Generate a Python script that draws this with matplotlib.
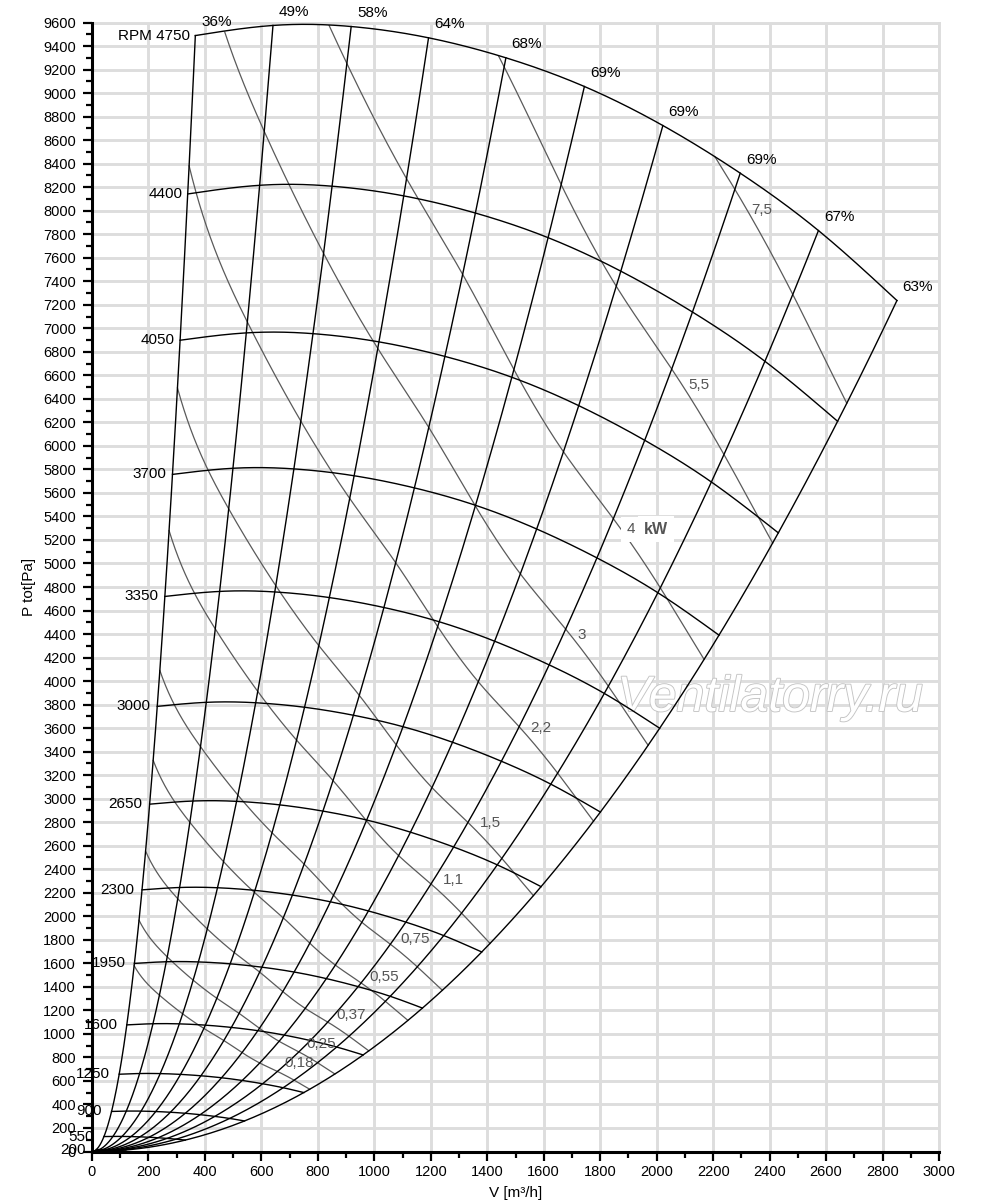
import numpy as np
import matplotlib
matplotlib.use('Agg')
import matplotlib.pyplot as plt
import matplotlib.patheffects as pe

plt.rcParams['font.family'] = ['Liberation Sans', 'DejaVu Sans']

# ---- data ----
RPM_TOP = 4750
# fan curve at 4750 rpm (V m3/h, Ptot Pa)
TOP_V = [366, 641, 798, 918, 1192, 1466, 1744, 2022, 2296, 2573, 2851]
TOP_P = [9489, 9575, 9583, 9566, 9470, 9300, 9056, 8724, 8319, 7831, 7236]
# efficiency points on the 4750 rpm curve
EFF_V = [366, 641, 918, 1192, 1466, 1744, 2022, 2296, 2573, 2851]
EFF_ETA = [36.4, 49, 58, 64, 68, 69, 69, 69, 67, 63]
EFF_LABELS = ['36%', '49%', '58%', '64%', '68%', '69%', '69%', '69%', '67%', '63%']
# speed curves
RPMS = [4750, 4400, 4050, 3700, 3350, 3000, 2650, 2300, 1950, 1600, 1250, 900, 550, 200]
# shaft power lines (kW)
POWER_KW = [7.5, 5.5, 4, 3, 2.2, 1.5, 1.1, 0.75, 0.55, 0.37, 0.25, 0.18]
POWER_LABELS = ['7,5', '5,5', '4', '3', '2,2', '1,5', '1,1', '0,75', '0,55', '0,37', '0,25', '0,18']
POWER_LABEL_V = [2373, 2148, 1909, 1735, 1591, 1413, 1281, 1144, 1035, 918, 810, 734]
POWER_LABEL_P = [8006, 6518, 5293, 4392, 3598, 2796, 2308, 1804, 1481, 1161, 912, 755]

X_TICKS = list(range(0, 3001, 200))
Y_TICKS = list(range(0, 9601, 200))


def natural_spline(x, y, xn):
    x = np.asarray(x, float)
    y = np.asarray(y, float)
    n = len(x)
    h = np.diff(x)
    A = np.zeros((n, n))
    b = np.zeros(n)
    A[0, 0] = 1
    A[-1, -1] = 1
    for i in range(1, n - 1):
        A[i, i - 1] = h[i - 1]
        A[i, i] = 2 * (h[i - 1] + h[i])
        A[i, i + 1] = h[i]
        b[i] = 6 * ((y[i + 1] - y[i]) / h[i] - (y[i] - y[i - 1]) / h[i - 1])
    M = np.linalg.solve(A, b)
    idx = np.clip(np.searchsorted(x, xn) - 1, 0, n - 2)
    x0, x1 = x[idx], x[idx + 1]
    hh = x1 - x0
    return (M[idx] * (x1 - xn) ** 3 / (6 * hh) + M[idx + 1] * (xn - x0) ** 3 / (6 * hh)
            + (y[idx] / hh - M[idx] * hh / 6) * (x1 - xn)
            + (y[idx + 1] / hh - M[idx + 1] * hh / 6) * (xn - x0))


fig = plt.figure(figsize=(10, 12.04), dpi=100)
ax = fig.add_axes([0.092, 0.0436, 0.847, 0.9377])

vt = np.linspace(TOP_V[0], TOP_V[-1], 1500)
pt = natural_spline(TOP_V, TOP_P, vt)

BLACK_LW = 1.0
GRAY = '#5a5a5a'

# watermark
ax.text(2401, 3856, 'Ventilatorry.ru', fontsize=36, style='italic', color='white',
        ha='center', va='center', zorder=1.5,
        path_effects=[pe.withStroke(linewidth=1.3, foreground='#c4c4c4')])

# speed curves
for n in RPMS:
    r = n / RPM_TOP
    ax.plot(vt * r, pt * r ** 2, color='black', lw=BLACK_LW, zorder=3)
    gap = 5 + 6 * (1 - r)
    label = f'RPM {n}' if n == RPM_TOP else str(n)
    ax.annotate(label, (vt[0] * r, pt[0] * r ** 2), xytext=(-gap, 0),
                textcoords='offset pixels', ha='right', va='center',
                fontsize=11, color='black', zorder=6)

# efficiency lines (parabolas through origin)
eff_p = natural_spline(TOP_V, TOP_P, np.array(EFF_V, float))
t = np.linspace(0, 1, 300)
for v, p, lab in zip(EFF_V, eff_p, EFF_LABELS):
    ax.plot(v * t, p * t ** 2, color='black', lw=BLACK_LW, zorder=3)
    ax.annotate(lab, (v, p), xytext=(21, 13.5), textcoords='offset pixels',
                ha='center', va='center', fontsize=11, color='black', zorder=6)

# power lines
eta = natural_spline(EFF_V, EFF_ETA, vt) / 100.0
w_top = vt * pt / (3600.0 * eta) / 1000.0
for w0 in POWER_KW:
    r = (w0 / w_top) ** (1 / 3)
    m = r <= 1.0
    ax.plot(vt[m] * r[m], pt[m] * r[m] ** 2, color=GRAY, lw=0.9, zorder=2.5)

for lab, v, p in zip(POWER_LABELS, POWER_LABEL_V, POWER_LABEL_P):
    if lab == '4':
        ax.text(v, p, lab, fontsize=11, color='#555555', ha='center', va='center',
                bbox=dict(facecolor='white', edgecolor='none', pad=4), zorder=5)
        ax.annotate('kW', (v, p), xytext=(25, 0), textcoords='offset pixels',
                    fontsize=11.5, fontweight='bold', color='#555555',
                    ha='center', va='center',
                    bbox=dict(facecolor='white', edgecolor='none', pad=4), zorder=5)
    else:
        ax.text(v, p, lab, fontsize=11, color='#555555', ha='center', va='center',
                zorder=5)

# axes styling
ax.set_xlim(0, 3000)
ax.set_ylim(0, 9600)
ax.set_xticks(X_TICKS)
ax.set_yticks(Y_TICKS)
ax.set_xticks(np.arange(100, 3000, 200), minor=True)
ax.set_yticks(np.arange(100, 9600, 200), minor=True)
ax.tick_params(which='major', length=6.5, width=1.6, labelsize=10.5, color='black')
ax.tick_params(which='minor', length=4, width=1.6, color='black')
ax.tick_params(axis='x', which='major', pad=3.5)
ax.tick_params(axis='y', which='major', pad=5)
ax.grid(True, which='major', color='#dddddd', lw=2.1)
ax.set_axisbelow(True)
for s in ['left', 'bottom']:
    ax.spines[s].set_linewidth(2.2)
    ax.spines[s].set_color('black')
    ax.spines[s].set_zorder(7)
for s in ['top', 'right']:
    ax.spines[s].set_linewidth(2.1)
    ax.spines[s].set_color('#dddddd')
ax.set_xlabel('V [m³/h]', fontsize=11, labelpad=5)
ax.set_ylabel('P tot[Pa]', fontsize=11, labelpad=5)

fig.savefig('out.png', dpi=100)
